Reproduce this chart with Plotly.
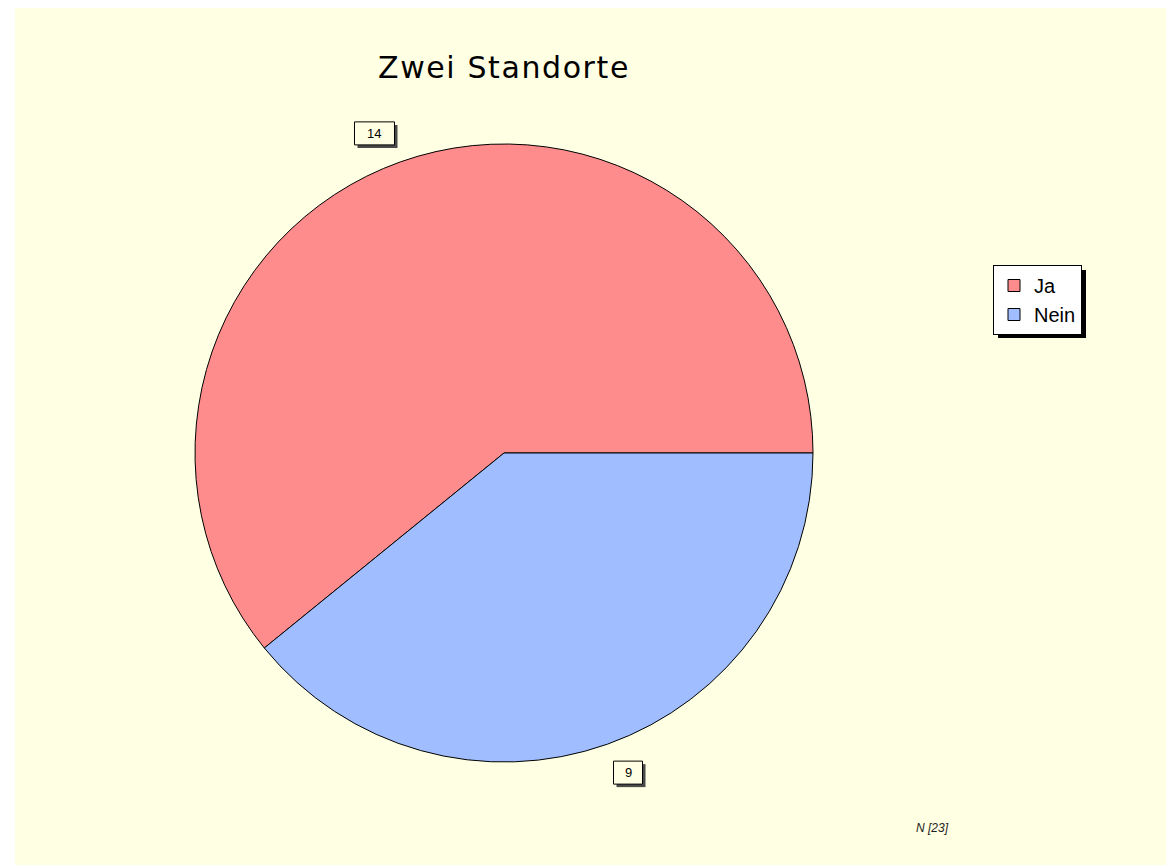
import math
import plotly.graph_objects as go

title = "Zwei Standorte"
labels = ["Ja", "Nein"]
values = [14, 9]
colors = ["#FF8C8C", "#A0BEFF"]

# the page body adds an 8px offset; the figure is sized/offset to compensate
OFF = 8
W, H = 1174 - OFF, 865 - OFF
bg = "#FFFFE3"


def px(x):
    return (x - OFF) / W


def py(y):
    return 1 - (y - OFF) / H


# pie geometry in reference pixels
cx, cy, r = 504, 453, 309
dom_x = [px(cx - r), px(cx + r)]
dom_y = [py(cy + r), py(cy - r)]

total = sum(values)
rotation = 90 - 360.0 * values[0] / total  # first slice starts at 3 o'clock, runs counterclockwise

fig = go.Figure(go.Pie(
    labels=labels, values=values, sort=False,
    direction="counterclockwise", rotation=rotation,
    marker=dict(colors=colors, line=dict(color="#000000", width=1)),
    textinfo="none", hoverinfo="label+value",
    domain=dict(x=dom_x, y=dom_y),
    showlegend=True,
))

shapes = [
    # white page edge on the left
    dict(type="rect", xref="paper", yref="paper", x0=-0.1, x1=px(15), y0=-0.1, y1=1.1,
         fillcolor="white", line=dict(width=0), layer="below"),
    # legend shadow
    dict(type="rect", xref="paper", yref="paper",
         x0=px(998), x1=px(1086), y0=py(338), y1=py(270),
         fillcolor="black", line=dict(width=0), layer="above"),
]

annotations = [
    dict(text="<span style='letter-spacing:1.6px'>%s</span>" % title,
         x=px(504), y=py(67), xref="paper", yref="paper",
         showarrow=False, font=dict(family="DejaVu Sans", size=30, color="#000000"),
         xanchor="center", yanchor="middle"),
    dict(text="<i>N [%d]</i>" % total, x=px(932), y=py(828), xref="paper", yref="paper",
         showarrow=False, font=dict(family="Liberation Sans", size=12, color="#222222"),
         xanchor="center", yanchor="middle"),
]

# value labels: boxed, anchored by the corner nearest the pie
start = 0.0
anchor_r = r + 18
box_h = 23
for v in values:
    mid = start + v / total * 360 / 2
    start += v / total * 360
    a = math.radians(mid)
    ax = cx + anchor_r * math.cos(a)
    ay = cy - anchor_r * math.sin(a)
    bw = 18 + 11 * len(str(v))
    x0 = ax - bw if math.cos(a) < 0 else ax
    y0 = ay - box_h if math.sin(a) > 0 else ay
    x1, y1 = x0 + bw, y0 + box_h
    # shadow
    shapes.append(dict(type="rect", xref="paper", yref="paper",
                       x0=px(x0 + 3), x1=px(x1 + 3), y0=py(y1 + 3), y1=py(y0 + 3),
                       fillcolor="#4a4a4a", line=dict(width=0), layer="above"))
    shapes.append(dict(type="rect", xref="paper", yref="paper",
                       x0=px(x0), x1=px(x1), y0=py(y1), y1=py(y0),
                       fillcolor=bg, line=dict(color="#000000", width=1), layer="above"))
    annotations.append(dict(text=str(v), x=px((x0 + x1) / 2), y=py((y0 + y1) / 2),
                            xref="paper", yref="paper", showarrow=False,
                            font=dict(family="Liberation Sans", size=13, color="#000000"),
                            xanchor="center", yanchor="middle"))

fig.update_layout(
    width=W, height=H,
    margin=dict(l=0, r=0, t=0, b=0),
    paper_bgcolor=bg, plot_bgcolor=bg,
    shapes=shapes, annotations=annotations,
    legend=dict(x=px(993), y=py(265), xanchor="left", yanchor="top",
                bgcolor="white", bordercolor="black", borderwidth=1,
                font=dict(family="Liberation Sans", size=20, color="#000000"),
                itemwidth=30, tracegroupgap=0),
)

fig.write_html("out.html")
